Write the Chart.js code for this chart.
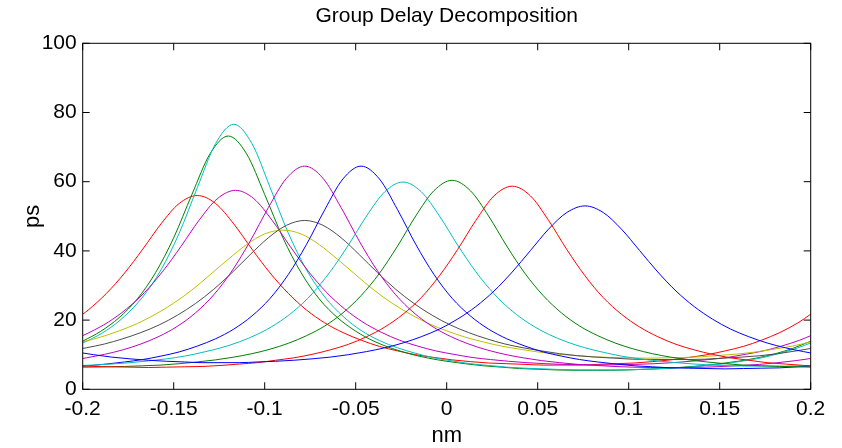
<!DOCTYPE html>
<html>
<head>
<meta charset="utf-8">
<script src="https://cdn.jsdelivr.net/npm/chart.js@4.4.1/dist/chart.umd.min.js"></script>
<style>
  html, body { margin: 0; padding: 0; background: #ffffff; }
  canvas { display: block; }
</style>
</head>
<body>
<canvas id="chart" width="842" height="448"></canvas>
<script>
// Wavelength sample positions (nm); each channel is sampled on the grid that passes through its peak.
const gridA = [-0.2,-0.19,-0.18,-0.17,-0.16,-0.15,-0.14,-0.13,-0.12,-0.11,-0.1,-0.09,-0.08,-0.07,-0.06,-0.05,-0.04,-0.03,-0.02,-0.01,0,0.01,0.02,0.03,0.04,0.05,0.06,0.07,0.08,0.09,0.1,0.11,0.12,0.13,0.14,0.15,0.16,0.17,0.18,0.19,0.2];
const grid197 = [-0.2,-0.197,-0.187,-0.177,-0.167,-0.157,-0.147,-0.137,-0.127,-0.117,-0.107,-0.097,-0.087,-0.077,-0.067,-0.057,-0.047,-0.037,-0.027,-0.017,-0.007,0.003,0.013,0.023,0.033,0.043,0.053,0.063,0.073,0.083,0.093,0.103,0.113,0.123,0.133,0.143,0.153,0.163,0.173,0.183,0.193,0.2];
const grid198 = [-0.2,-0.198,-0.188,-0.178,-0.168,-0.158,-0.148,-0.138,-0.128,-0.118,-0.108,-0.098,-0.088,-0.078,-0.068,-0.058,-0.048,-0.038,-0.028,-0.018,-0.008,0.002,0.012,0.022,0.032,0.042,0.052,0.062,0.072,0.082,0.092,0.102,0.112,0.122,0.132,0.142,0.152,0.162,0.172,0.182,0.192,0.2];
const grid196 = [-0.2,-0.196,-0.186,-0.176,-0.166,-0.156,-0.146,-0.136,-0.126,-0.116,-0.106,-0.096,-0.086,-0.076,-0.066,-0.056,-0.046,-0.036,-0.026,-0.016,-0.006,0.004,0.014,0.024,0.034,0.044,0.054,0.064,0.074,0.084,0.094,0.104,0.114,0.124,0.134,0.144,0.154,0.164,0.174,0.184,0.194,0.2];
const grid194 = [-0.2,-0.194,-0.184,-0.174,-0.164,-0.154,-0.144,-0.134,-0.124,-0.114,-0.104,-0.094,-0.084,-0.074,-0.064,-0.054,-0.044,-0.034,-0.024,-0.014,-0.004,0.006,0.016,0.026,0.036,0.046,0.056,0.066,0.076,0.086,0.096,0.106,0.116,0.126,0.136,0.146,0.156,0.166,0.176,0.186,0.196,0.2];

// Group delay of each channel (ps)
const delayRed1     = [21.7,22.9,27.7,33.6,40.5,47.8,53.7,56.0,53.7,47.8,40.5,33.6,27.7,22.9,19.2,16.4,14.2,12.4,11.1,10.0,9.2,8.5,8.0,7.6,7.4,7.2,7.0,7.0,7.0,7.2,7.4,7.6,8.0,8.5,9.2,10.0,11.1,12.4,14.2,16.4,19.2,21.7];
const delayGreen1   = [13.9,16.8,20.7,26.1,33.7,43.8,56.3,68.1,73.2,68.1,56.3,43.8,33.7,26.1,20.7,16.8,13.9,11.8,10.2,9.0,8.1,7.4,6.8,6.4,6.0,5.8,5.6,5.5,5.5,5.5,5.6,5.8,6.0,6.4,6.8,7.4,8.1,9.0,10.2,11.8,13.9];
const delayCyan1    = [13.4,14.1,17.0,21.1,26.7,34.5,45.1,58.3,71.0,76.6,71.0,58.3,45.1,34.5,26.7,21.1,17.0,14.1,12.0,10.4,9.1,8.2,7.4,6.9,6.4,6.1,5.9,5.7,5.6,5.6,5.6,5.7,5.9,6.1,6.4,6.9,7.4,8.2,9.1,10.4,12.0,13.4];
const delayMagenta1 = [15.5,16.5,19.4,23.2,28.0,34.1,41.3,48.9,55.1,57.5,55.1,48.9,41.3,34.1,28.0,23.2,19.4,16.5,14.2,12.5,11.1,10.1,9.2,8.6,8.1,7.7,7.4,7.2,7.1,7.0,7.1,7.2,7.4,7.7,8.1,8.6,9.2,10.1,11.1,12.5,14.2,15.5];
const delayYellow   = [13.7,15.1,16.9,19.0,21.7,24.9,28.7,33.1,37.6,41.8,44.9,46.0,44.9,41.8,37.6,33.1,28.7,24.9,21.7,19.0,16.9,15.1,13.7,12.5,11.6,10.8,10.2,9.8,9.4,9.2,9.1,9.0,9.1,9.2,9.4,9.8,10.2,10.8,11.6,12.5,13.7];
const delayGray     = [11.8,12.0,13.1,14.6,16.4,18.6,21.4,24.8,28.9,33.7,38.9,43.8,47.4,48.8,47.4,43.8,38.9,33.7,28.9,24.8,21.4,18.6,16.4,14.6,13.1,12.0,11.1,10.3,9.7,9.3,9.0,8.7,8.6,8.6,8.6,8.7,9.0,9.3,9.7,10.3,11.1,11.8];
const delayMagenta2 = [8.9,9.1,10.1,11.4,13.1,15.3,18.2,22.1,27.3,34.2,42.8,52.5,61.0,64.5,61.0,52.5,42.8,34.2,27.3,22.1,18.2,15.3,13.1,11.4,10.1,9.1,8.3,7.7,7.2,6.9,6.6,6.4,6.3,6.3,6.3,6.4,6.6,6.9,7.2,7.7,8.3,8.9];
const delayBlue1    = [6.7,6.8,7.3,7.9,8.6,9.6,10.8,12.5,14.6,17.4,21.2,26.3,33.2,41.9,51.9,60.8,64.5,60.8,51.9,41.9,33.2,26.3,21.2,17.4,14.6,12.5,10.8,9.6,8.6,7.9,7.3,6.8,6.5,6.2,6.1,6.0,5.9,6.0,6.1,6.2,6.5,6.7];
const delayCyan2    = [6.9,7.0,7.3,7.7,8.2,8.8,9.6,10.7,12.0,13.7,15.9,18.8,22.6,27.6,34.0,41.7,50.1,57.1,59.9,57.1,50.1,41.7,34.0,27.6,22.6,18.8,15.9,13.7,12.0,10.7,9.6,8.8,8.2,7.7,7.3,7.0,6.8,6.7,6.7,6.7,6.8,6.9];
const delayGreen2   = [6.4,6.4,6.5,6.6,6.8,7.0,7.4,7.9,8.5,9.3,10.3,11.6,13.3,15.5,18.3,22.1,27.1,33.5,41.4,50.1,57.4,60.4,57.4,50.1,41.4,33.5,27.1,22.1,18.3,15.5,13.3,11.6,10.3,9.3,8.5,7.9,7.4,7.0,6.8,6.6,6.5,6.4];
const delayRed2     = [6.8,6.6,6.5,6.4,6.3,6.4,6.5,6.6,6.9,7.3,7.7,8.4,9.1,10.1,11.4,13.0,15.2,18.0,21.7,26.5,32.8,40.4,48.8,55.9,58.7,55.9,48.8,40.4,32.8,26.5,21.7,18.0,15.2,13.0,11.4,10.1,9.1,8.4,7.7,7.3,6.9,6.8];
const delayBlue2    = [10.5,10.0,9.3,8.8,8.4,8.1,7.9,7.7,7.7,7.7,7.9,8.1,8.4,8.8,9.3,10.0,10.9,12.0,13.4,15.2,17.4,20.3,23.9,28.4,33.9,40.1,46.3,51.1,53.0,51.1,46.3,40.1,33.9,28.4,23.9,20.3,17.4,15.2,13.4,12.0,10.9,10.5];

// Axis ticks
const xTicks = [-0.2, -0.15, -0.1, -0.05, 0, 0.05, 0.1, 0.15, 0.2];
const xTickLabels = ['-0.2', '-0.15', '-0.1', '-0.05', '0', '0.05', '0.1', '0.15', '0.2'];
const yTicks = [0, 20, 40, 60, 80, 100];

// Line colours (classic plot colour order)
const C_BLUE = '#0000ff', C_GREEN = '#008000', C_RED = '#ff0000', C_CYAN = '#00bfbf',
      C_MAGENTA = '#bf00bf', C_YELLOW = '#bfbf00', C_GRAY = '#4d4d4d';

const channels = [
  [grid194, delayBlue2,    C_BLUE],
  [grid194, delayRed2,     C_RED],
  [grid197, delayGreen2,   C_GREEN],
  [grid194, delayCyan2,    C_CYAN],
  [grid197, delayBlue1,    C_BLUE],
  [grid198, delayMagenta2, C_MAGENTA],
  [grid198, delayGray,     C_GRAY],
  [gridA,   delayYellow,   C_YELLOW],
  [grid196, delayMagenta1, C_MAGENTA],
  [grid197, delayCyan1,    C_CYAN],
  [gridA,   delayGreen1,   C_GREEN],
  [grid197, delayRed1,     C_RED]
];

const FONT = "'Liberation Sans', Arial, Helvetica, sans-serif";

// Box around the axes with inward tick marks on all four sides
const axesBox = {
  id: 'axesBox',
  afterDatasetsDraw(chart) {
    const { ctx, chartArea: a, scales } = chart;
    const len = 7;
    ctx.save();
    ctx.strokeStyle = '#000000';
    ctx.lineWidth = 1;
    ctx.strokeRect(a.left, a.top, a.right - a.left, a.bottom - a.top);
    ctx.beginPath();
    xTicks.forEach(v => {
      const px = scales.x.getPixelForValue(v);
      ctx.moveTo(px, a.bottom); ctx.lineTo(px, a.bottom - len);
      ctx.moveTo(px, a.top);    ctx.lineTo(px, a.top + len);
    });
    yTicks.forEach(v => {
      const py = scales.y.getPixelForValue(v);
      ctx.moveTo(a.left, py);  ctx.lineTo(a.left + len, py);
      ctx.moveTo(a.right, py); ctx.lineTo(a.right - len, py);
    });
    ctx.stroke();
    ctx.restore();
  }
};

new Chart(document.getElementById('chart'), {
  type: 'line',
  data: {
    datasets: channels.map(([nm, ps, color]) => ({
      data: nm.map((x, i) => ({ x: x, y: ps[i] })),
      borderColor: color,
      borderWidth: 1,
      pointRadius: 0,
      fill: false,
      cubicInterpolationMode: 'monotone'
    }))
  },
  options: {
    responsive: false,
    animation: false,
    devicePixelRatio: 1,
    layout: { padding: { left: 0, right: 31.3, top: 0, bottom: 0 } },
    plugins: {
      legend: { display: false },
      tooltip: { enabled: false },
      title: {
        display: true,
        text: 'Group Delay Decomposition',
        fullSize: false,
        color: '#000000',
        font: { family: FONT, size: 21, weight: 'normal' },
        padding: { top: 4, bottom: 14.1 }
      }
    },
    scales: {
      x: {
        type: 'linear',
        min: -0.2,
        max: 0.2,
        grid: { display: false, drawTicks: false },
        border: { display: false },
        afterBuildTicks: s => { s.ticks = xTicks.map(v => ({ value: v })); },
        afterFit: s => { s.height = 58.7; },
        ticks: {
          color: '#000000',
          font: { family: FONT, size: 21 },
          padding: 7,
          maxRotation: 0,
          autoSkip: false,
          callback: (v, i) => xTickLabels[i]
        },
        title: {
          display: true,
          text: 'nm',
          color: '#000000',
          font: { family: FONT, size: 22 },
          padding: { top: 0, bottom: -1.5 }
        }
      },
      y: {
        type: 'linear',
        min: 0,
        max: 100,
        grid: { display: false, drawTicks: false },
        border: { display: false },
        afterBuildTicks: s => { s.ticks = yTicks.map(v => ({ value: v })); },
        afterFit: s => { s.width = 82.7; },
        ticks: {
          color: '#000000',
          font: { family: FONT, size: 21 },
          padding: 6,
          callback: v => String(v)
        },
        title: {
          display: true,
          text: 'ps',
          color: '#000000',
          font: { family: FONT, size: 22 },
          padding: { top: 20, bottom: 0 }
        }
      }
    }
  },
  plugins: [axesBox]
});
</script>
</body>
</html>
